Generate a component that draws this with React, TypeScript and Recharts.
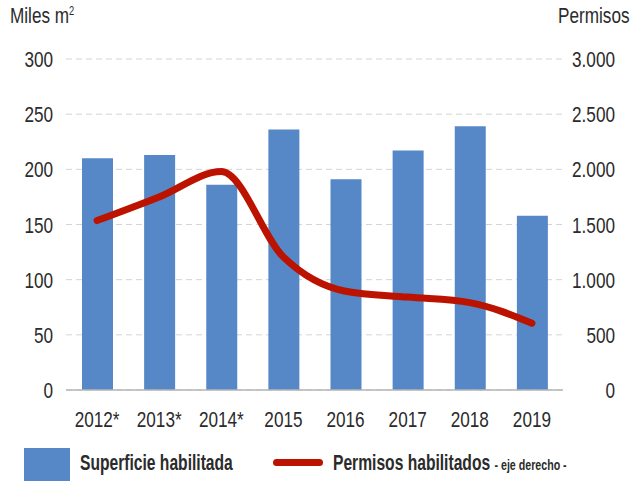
import React from 'react';
import { ComposedChart, Bar, Line, XAxis, YAxis, CartesianGrid, ReferenceLine } from 'recharts';

const years = ['2012*', '2013*', '2014*', '2015', '2016', '2017', '2018', '2019'];
const superficie = [210, 213, 186, 236, 191, 217, 239, 158];
const permisos = [1536, 1750, 1980, 1205, 895, 842, 792, 605];
const leftTicks = [0, 50, 100, 150, 200, 250, 300];
const rightTicks = [0, 500, 1000, 1500, 2000, 2500, 3000];

const data = years.map((year, i) => ({ year, superficie: superficie[i], permisos: permisos[i] }));

const FONT = '"Liberation Sans", Arial, sans-serif';
const TEXT = '#2b2b2b';
const SQ = 0.78;

const fmt = (v: number) => v.toLocaleString('de-DE');

const Narrow = ({ x, y, anchor, children }: any) => (
  <g transform={`translate(${x},${y}) scale(${SQ},1)`}>
    <text x={0} y={0} textAnchor={anchor} fontSize={22} fill={TEXT} fontFamily={FONT}>
      {children}
    </text>
  </g>
);

const LeftTick = (props: any) => <Narrow x={53} y={props.y + 8} anchor="end">{props.payload.value}</Narrow>;
const RightTick = (props: any) => <Narrow x={615} y={props.y + 8} anchor="end">{fmt(props.payload.value)}</Narrow>;
const BottomTick = (props: any) => <Narrow x={props.x} y={427} anchor="middle">{props.payload.value}</Narrow>;

const squeeze = (k: number): React.CSSProperties => ({ transform: `scaleX(${k})`, transformOrigin: 'left top', whiteSpace: 'nowrap' });

export default function App() {
  return (
    <div style={{ position: 'relative', width: 631, height: 481, background: '#fff', fontFamily: FONT, color: TEXT, overflow: 'hidden' }}>
      <style>{`body{margin:0}`}</style>
      <ComposedChart width={631} height={481} data={data} margin={{ top: 59, right: 0, left: 0, bottom: 0 }}>
        <CartesianGrid vertical={false} stroke="#d4d4d4" strokeDasharray="6 4" yAxisId="left" />
        <XAxis dataKey="year" height={91} axisLine={false} tickLine={false} tick={<BottomTick />} interval={0} />
        <YAxis yAxisId="left" orientation="left" width={66} domain={[0, 300]} ticks={leftTicks} axisLine={false} tickLine={false} tick={<LeftTick />} />
        <YAxis yAxisId="right" orientation="right" width={68} domain={[0, 3000]} ticks={rightTicks} axisLine={false} tickLine={false} tick={<RightTick />} />
        <Bar yAxisId="left" dataKey="superficie" fill="#5687C6" barSize={31} isAnimationActive={false} />
        <ReferenceLine yAxisId="left" y={0} stroke="#b5b5b5" strokeWidth={1.5} />
        <Line yAxisId="right" dataKey="permisos" type="monotone" stroke="#BC1300" strokeWidth={7} dot={false} strokeLinecap="round" isAnimationActive={false} />
      </ComposedChart>

      <div style={{ position: 'absolute', left: 10, top: 3, fontSize: 22, ...squeeze(0.78) }}>
        Miles m<sup style={{ fontSize: 12 }}>2</sup>
      </div>
      <div style={{ position: 'absolute', left: 558, top: 3, fontSize: 22, ...squeeze(0.78) }}>Permisos</div>

      <div style={{ position: 'absolute', left: 24, top: 448, width: 46, height: 33, background: '#5687C6' }} />
      <div style={{ position: 'absolute', left: 80, top: 450, fontSize: 22, fontWeight: 'bold', ...squeeze(0.71) }}>Superficie habilitada</div>
      <div style={{ position: 'absolute', left: 273, top: 459, width: 50, height: 7, borderRadius: 4, background: '#BC1300' }} />
      <div style={{ position: 'absolute', left: 333, top: 450, fontSize: 22, fontWeight: 'bold', ...squeeze(0.71) }}>
        Permisos habilitados <span style={{ fontSize: 15 }}>- eje derecho -</span>
      </div>
    </div>
  );
}
